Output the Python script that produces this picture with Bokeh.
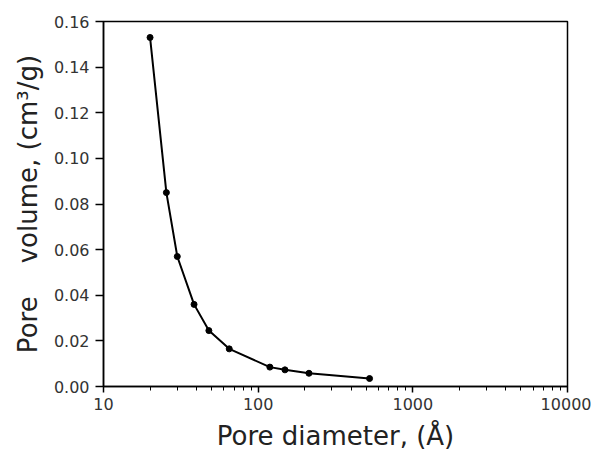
from bokeh.plotting import figure
from bokeh.models import FixedTicker, PrintfTickFormatter, Range1d
from bokeh.embed import file_html
from bokeh.resources import INLINE

diameter = [20, 25.5, 30, 38.5, 48, 65, 119, 149, 213, 525]
volume = [0.153, 0.085, 0.057, 0.036, 0.0245, 0.0165, 0.0085, 0.0073, 0.0058, 0.0035]

x_ticks = [10, 100, 1000, 10000]
x_minor = [20, 30, 40, 50, 60, 70, 80, 90, 200, 300, 400, 500, 600, 700, 800, 900,
           2000, 3000, 4000, 5000, 6000, 7000, 8000, 9000]
y_ticks = [0.0, 0.02, 0.04, 0.06, 0.08, 0.10, 0.12, 0.14, 0.16]

p = figure(width=591, height=456, x_axis_type="log", output_backend="svg",
           toolbar_location=None, x_range=Range1d(10, 10000), y_range=Range1d(0, 0.16),
           min_border_left=103, min_border_right=24, min_border_top=21, min_border_bottom=70)
p.grid.visible = False
p.outline_line_color = "black"
p.outline_line_width = 1.5

p.line(diameter, volume, line_color="black", line_width=2)
p.scatter(diameter, volume, size=6, color="black")

p.xaxis.ticker = FixedTicker(ticks=x_ticks, minor_ticks=x_minor)
p.xaxis.major_label_overrides = {t: str(t) for t in x_ticks}
p.yaxis.ticker = FixedTicker(ticks=y_ticks)
p.yaxis.formatter = PrintfTickFormatter(format="%.2f")

p.xaxis.axis_label = "Pore diameter, (Å)"
p.yaxis.axis_label = "Pore\u00a0\u00a0\u00a0\u00a0volume, (cm³/g)"
for ax in (p.xaxis[0], p.yaxis[0]):
    ax.axis_label_text_font = "DejaVu Sans"
    ax.axis_label_text_font_style = "normal"
    ax.axis_label_text_font_size = "26px"
    ax.axis_label_text_color = "#222222"
    ax.major_label_text_font = "DejaVu Sans"
    ax.major_label_text_font_size = "16px"
    ax.major_label_text_color = "#333333"
    ax.axis_line_width = 1.5
    ax.major_tick_line_width = 1.5
    ax.minor_tick_line_width = 1

p.xaxis.major_tick_in = 0
p.xaxis.major_tick_out = 6
p.xaxis.minor_tick_in = 0
p.xaxis.minor_tick_out = 4
p.xaxis.major_label_standoff = 5
p.xaxis.axis_label_standoff = 8
p.yaxis.major_tick_in = 0
p.yaxis.major_tick_out = 8
p.yaxis.minor_tick_line_color = None
p.yaxis.major_label_standoff = 6
p.yaxis.axis_label_standoff = 8

open("out.html", "w").write(file_html(p, INLINE))
